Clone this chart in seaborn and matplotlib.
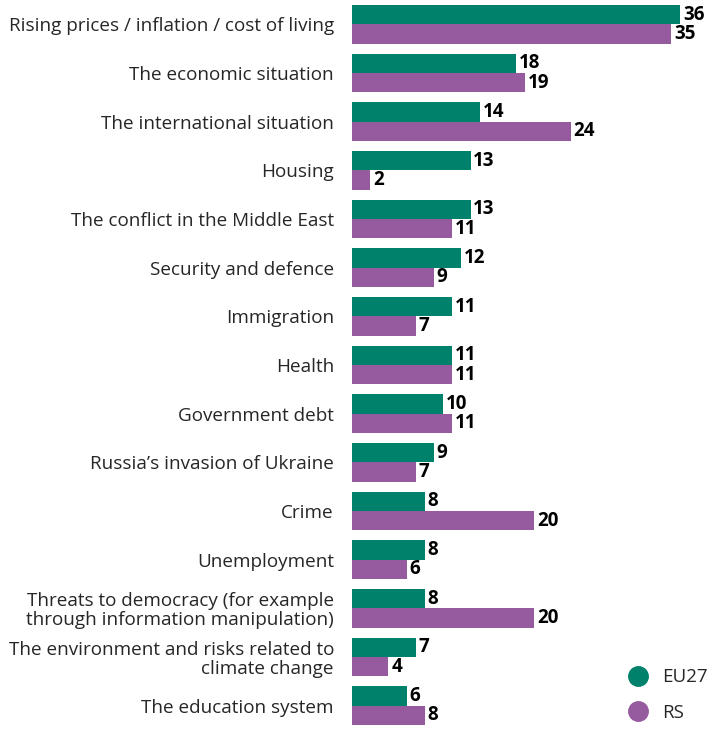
import matplotlib
matplotlib.use("Agg")
import matplotlib.pyplot as plt
import seaborn as sns
import pandas as pd
from matplotlib.lines import Line2D

categories = [
    "Rising prices / inflation / cost of living",
    "The economic situation",
    "The international situation",
    "Housing",
    "The conflict in the Middle East",
    "Security and defence",
    "Immigration",
    "Health",
    "Government debt",
    "Russia\u2019s invasion of Ukraine",
    "Crime",
    "Unemployment",
    "Threats to democracy (for example\nthrough information manipulation)",
    "The environment and risks related to\nclimate change",
    "The education system",
]
eu27 = [36, 18, 14, 13, 13, 12, 11, 11, 10, 9, 8, 8, 8, 7, 6]
rs = [35, 19, 24, 2, 11, 9, 7, 11, 11, 7, 20, 6, 20, 4, 8]
series = ["EU27", "RS"]
colors = {"EU27": "#00816B", "RS": "#965A9E"}

df = pd.DataFrame({
    "category": categories * 2,
    "value": eu27 + rs,
    "series": ["EU27"] * len(eu27) + ["RS"] * len(rs),
})

sns.set_style("white")
plt.rcParams["font.family"] = ["Open Sans", "DejaVu Sans"]

fig = plt.figure(figsize=(7.14, 7.3), dpi=100)
ax = fig.add_axes([0.493, 0.0, 0.507, 1.0])
sns.barplot(data=df, y="category", x="value", hue="series", order=categories,
            hue_order=series, palette=colors, orient="h", width=0.8,
            dodge=True, legend=False, ax=ax, saturation=1, linewidth=0)

for cont in ax.containers:
    ax.bar_label(cont, fmt="%d", padding=2, fontsize=13.5, fontweight="bold",
                 color="black")

ax.set_xlim(0, 39.7)
ax.set_ylim(14.5, -0.5)
ax.set_xlabel("")
ax.set_ylabel("")
ax.set_xticks([])
ax.tick_params(axis="y", length=0, pad=13, labelsize=13.6)
for lbl in ax.get_yticklabels():
    lbl.set_horizontalalignment("right")
    lbl.set_linespacing(1.05)
for s in ax.spines.values():
    s.set_visible(False)

handles = [Line2D([0], [0], marker="o", linestyle="", markersize=14,
                  markerfacecolor=colors[s], markeredgecolor=colors[s], label=s)
           for s in series]
fig.legend(handles=handles, loc="lower right", bbox_to_anchor=(1.015, -0.012),
           frameon=False, fontsize=13.5, handletextpad=0.3, labelspacing=0.95)

fig.savefig("out.png", dpi=100)
